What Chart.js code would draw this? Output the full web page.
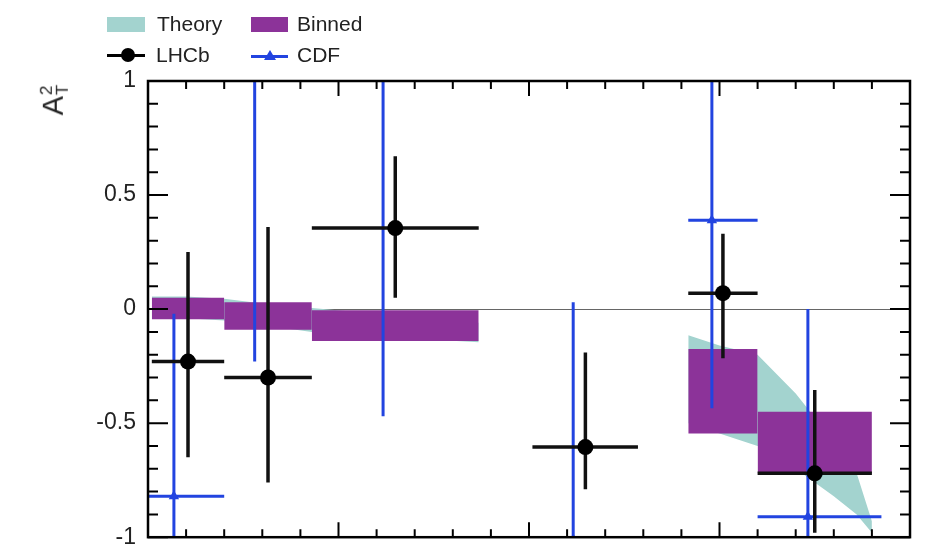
<!DOCTYPE html>
<html>
<head>
    <title>A_T^2 vs q2</title>
    <style>
        body { margin: 0; background: #fff; font-family: "Liberation Sans", Arial, sans-serif; }
        #wrap { position: relative; width: 928px; height: 548px; overflow: hidden; }
        .lg-text { position: absolute; font-size: 21px; line-height: 22px; color: #222; }
        .swatch { position: absolute; width: 38px; height: 15px; }
        .lg-line { position: absolute; height: 3px; width: 38px; }
        .dot { position: absolute; width: 14px; height: 14px; border-radius: 50%; background: #000; }
        .tri { position: absolute; width: 0; height: 0; border-left: 6px solid transparent;
               border-right: 6px solid transparent; border-bottom: 10px solid #2244e0; }
        #ytitle {
            position: absolute; left: 55px; top: 100px;
            transform: translate(-50%, -50%) rotate(-90deg);
            font-size: 29px; color: #222; white-space: nowrap; line-height: 1;
        }
        #ytitle .scr { display: inline-flex; flex-direction: column; font-size: 17px;
                       line-height: 16px; vertical-align: middle; margin-left: 1px; }
    </style>
    <script src="https://cdn.jsdelivr.net/npm/chart.js@4/dist/chart.umd.min.js"></script>
</head>
<body>
<div id="wrap">
    <!-- canvas is a bit taller than the view: the x labels of the original are cut off -->
    <canvas id="chart" width="928" height="563"></canvas>

    <!-- legend, ROOT style 2x2 -->
    <div class="swatch" style="left:107px; top:17px; background:#a3d3cf;"></div>
    <div class="lg-text" style="left:157px; top:13px;">Theory</div>
    <div class="swatch" style="left:251px; top:17px; width:37px; background:#8c3399;"></div>
    <div class="lg-text" style="left:297px; top:13px;">Binned</div>

    <div class="lg-line" style="left:107px; top:54px; background:#000;"></div>
    <div class="dot" style="left:121px; top:48px;"></div>
    <div class="lg-text" style="left:156px; top:44px;">LHCb</div>
    <div class="lg-line" style="left:251px; top:55px; width:37px; background:#2244e0;"></div>
    <div class="tri" style="left:264px; top:50px;"></div>
    <div class="lg-text" style="left:297px; top:44px;">CDF</div>

    <div id="ytitle">A<span class="scr"><span>2</span><span>T</span></span></div>
</div>

<script>
    // q2 bins (GeV^2/c^4)
    const binLo  = [0.1, 2.0, 4.3, 14.18, 16.0];
    const binHi  = [2.0, 4.3, 8.68, 16.0, 19.0];
    const binTop = [0.05, 0.03, -0.005, -0.175, -0.45];
    const binBot = [-0.045, -0.09, -0.14, -0.545, -0.72];

    // theory band, low and high q2
    const theoryLowX  = [0.1, 1, 2, 3, 4.3, 6, 8.68];
    const theoryLowHi = [0.055, 0.055, 0.045, 0.025, 0.005, -0.02, -0.06];
    const theoryLowLo = [-0.04, -0.04, -0.05, -0.07, -0.10, -0.12, -0.145];
    const theoryHighX  = [14.18, 15, 16, 17, 18, 18.6, 19.0];
    const theoryHighHi = [-0.115, -0.16, -0.20, -0.37, -0.58, -0.72, -0.93];
    const theoryHighLo = [-0.50, -0.545, -0.60, -0.70, -0.82, -0.90, -0.98];

    // LHCb
    const lhcbX   = [1.05, 3.15, 6.49, 11.48, 15.09, 17.5];
    const lhcbXlo = [0.1, 2.0, 4.3, 10.09, 14.18, 16.0];
    const lhcbXhi = [2.0, 4.3, 8.68, 12.86, 16.0, 19.0];
    const lhcbY   = [-0.23, -0.30, 0.355, -0.605, 0.07, -0.72];
    const lhcbYlo = [-0.65, -0.76, 0.05, -0.79, -0.215, -0.98];
    const lhcbYhi = [0.25, 0.36, 0.67, -0.19, 0.33, -0.355];

    // CDF (points 2 and 3 lie above the frame)
    const cdfX   = [0.68, 2.8, 6.17, 11.16, 14.8, 17.32];
    const cdfXlo = [0.0, 2.0, 4.3, 10.09, 14.18, 16.0];
    const cdfXhi = [2.0, 4.3, 8.68, 12.86, 16.0, 19.25];
    const cdfY   = [-0.82, 1.2, 1.15, -1.01, 0.39, -0.91];
    const cdfYlo = [-1.6, -0.23, -0.47, -2.0, -0.435, -1.7];
    const cdfYhi = [-0.02, 2.5, 2.5, 0.03, 1.5, 0.0];

    const TEAL = '#a3d3cf';
    const PURPLE = '#8c3399';
    const BLUE = '#2244e0';

    // error bars as broken line segments
    function errorSegments(x, xlo, xhi, y, ylo, yhi) {
        const pts = [];
        x.forEach((xv, i) => {
            pts.push({x: xv, y: ylo[i]}, {x: xv, y: yhi[i]}, {x: xv, y: null});
            pts.push({x: xlo[i], y: y[i]}, {x: xhi[i], y: y[i]}, {x: xhi[i], y: null});
        });
        return pts;
    }

    const zip = (xs, ys) => xs.map((x, i) => ({x: x, y: ys[i]}));

    const datasets = [];

    datasets.push({
        label: 'LHCb', data: zip(lhcbX, lhcbY), order: 0,
        showLine: false, pointStyle: 'circle', pointRadius: 8,
        pointBackgroundColor: '#000', pointBorderColor: '#000', pointBorderWidth: 0
    });
    datasets.push({
        label: 'LHCb err', data: errorSegments(lhcbX, lhcbXlo, lhcbXhi, lhcbY, lhcbYlo, lhcbYhi),
        order: 1, borderColor: '#111', borderWidth: 3.5, pointRadius: 0, spanGaps: false, fill: false
    });
    datasets.push({
        label: 'CDF', data: zip(cdfX, cdfY), order: 2,
        showLine: false, pointStyle: 'triangle', pointRadius: 6,
        pointBackgroundColor: BLUE, pointBorderColor: BLUE, pointBorderWidth: 0
    });
    datasets.push({
        label: 'CDF err', data: errorSegments(cdfX, cdfXlo, cdfXhi, cdfY, cdfYlo, cdfYhi),
        order: 3, borderColor: BLUE, borderWidth: 3, pointRadius: 0, spanGaps: false, fill: false
    });

    // binned prediction boxes
    binLo.forEach((lo, i) => {
        datasets.push({
            label: 'Binned', order: 4,
            data: [{x: lo, y: binTop[i]}, {x: binHi[i], y: binTop[i]}],
            borderWidth: 0, borderColor: 'transparent', pointRadius: 0,
            backgroundColor: PURPLE, fill: {target: {value: binBot[i]}}
        });
    });

    // theory band: upper edge filled down to the next dataset (lower edge)
    [[theoryLowX, theoryLowHi, theoryLowLo], [theoryHighX, theoryHighHi, theoryHighLo]].forEach(([xs, hi, lo]) => {
        datasets.push({
            label: 'Theory', order: 5, data: zip(xs, hi),
            borderWidth: 0, borderColor: 'transparent', pointRadius: 0,
            backgroundColor: TEAL, fill: '+1'
        });
        datasets.push({
            label: 'Theory lo', order: 5, data: zip(xs, lo),
            borderWidth: 0, borderColor: 'transparent', pointRadius: 0, fill: false
        });
    });

    const isMajor = (v, step) => Math.abs(v / step - Math.round(v / step)) < 1e-6;

    // frame and inward ticks, ROOT style
    const frameTicks = {
        id: 'frameTicks',
        afterDatasetsDraw(chart) {
            const {ctx, chartArea: a, scales: {x, y}} = chart;
            ctx.save();
            ctx.strokeStyle = '#000';
            ctx.lineWidth = 2;
            ctx.beginPath();
            x.ticks.forEach(t => {
                const px = x.getPixelForValue(t.value);
                const len = isMajor(t.value, 5) ? 15 : 8;
                ctx.moveTo(px, a.bottom); ctx.lineTo(px, a.bottom - len);
                ctx.moveTo(px, a.top); ctx.lineTo(px, a.top + len);
            });
            y.ticks.forEach(t => {
                const py = y.getPixelForValue(t.value);
                const len = isMajor(t.value, 0.5) ? 20 : 10;
                ctx.moveTo(a.left, py); ctx.lineTo(a.left + len, py);
                ctx.moveTo(a.right, py); ctx.lineTo(a.right - len, py);
            });
            ctx.stroke();
            ctx.lineWidth = 2.5;
            ctx.strokeRect(a.left, a.top, a.right - a.left, a.bottom - a.top);
            ctx.restore();
        }
    };

    new Chart(document.getElementById('chart'), {
        type: 'line',
        data: { datasets: datasets },
        options: {
            responsive: false,
            devicePixelRatio: 1,
            animation: false,
            layout: { padding: { top: 81, right: 18, bottom: 0, left: 0 } },
            plugins: { legend: { display: false }, tooltip: { enabled: false } },
            scales: {
                x: {
                    type: 'linear', min: 0, max: 20,
                    ticks: { display: false, stepSize: 1 },
                    grid: { display: false },
                    border: { display: false },
                    afterFit: s => { s.height = 11; }
                },
                y: {
                    type: 'linear', min: -1, max: 1,
                    ticks: {
                        stepSize: 0.1, autoSkip: false, padding: 12,
                        color: '#222',
                        font: { family: '"Liberation Sans", Arial, sans-serif', size: 23 },
                        callback: v => isMajor(v, 0.5) ? String(Math.round(v * 2) / 2) : ''
                    },
                    grid: {
                        drawTicks: false,
                        color: c => (c.tick && Math.abs(c.tick.value) < 1e-6) ? '#666' : 'transparent',
                        lineWidth: 1
                    },
                    border: { display: false },
                    afterFit: s => { s.width = 148; }
                }
            }
        },
        plugins: [frameTicks]
    });
</script>
</body>
</html>
